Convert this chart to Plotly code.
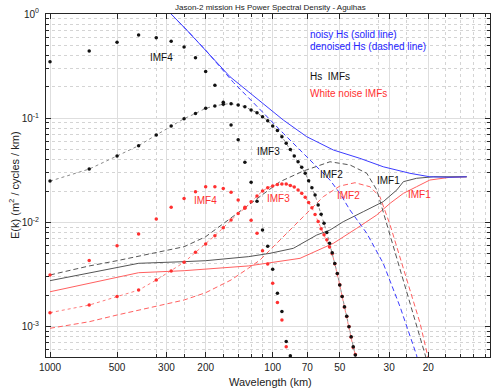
import numpy as np
import plotly.graph_objects as go

FONT = "Liberation Sans, Arial, Helvetica, sans-serif"
BLUE = "#3c3cff"
BLUE_TXT = "#2424ff"
RED = "#ff3030"
RED_LINE = "#ff6060"
BLACK = "#111111"
GREY_LINE = "#555555"
AXIS = "#262626"

# --- wavelength grid (km) of the spectral estimates used by the dotted IMF series
lam_grid = [1000, 666.7, 500, 400, 333.3, 285.7, 250, 222.2, 200, 181.8,
            166.7, 153.8, 142.9, 133.3, 125, 117.6, 111.1, 105.3, 100, 95.24,
            90.91, 86.96, 83.33, 80, 76.92, 74.07, 71.43, 68.97, 66.67, 64.52,
            62.5, 60.61, 58.82, 57.14, 55.56, 54.05, 52.63, 51.28, 50, 48.78,
            47.62, 46.51, 45.45, 44.44, 43.48, 42.55, 41.67]

# --- Hs spectra (blue)
lam_noisy = [333, 286, 243, 200, 155.5, 128.7, 106.4, 89.6, 70.4, 53.4,
             40.6, 31.9, 24.2, 19.7, 16.0, 13.45]
e_noisy = [1.45, 1.0, 0.70, 0.45, 0.25, 0.18, 0.129, 0.096, 0.0665, 0.0495,
           0.0412, 0.0342, 0.0296, 0.0274, 0.0271, 0.0274]

lam_denoised = [333, 286, 243, 200, 170, 150, 128.7, 106.4, 89.6, 75.4,
                63.4, 55.3, 49.9, 45.0, 37.8, 31.9, 26.8, 22.6, 21.0]
e_denoised = [1.45, 1.0, 0.70, 0.45, 0.30, 0.22, 0.158, 0.1034, 0.0716, 0.0495,
              0.0342, 0.0255, 0.019, 0.01315, 0.00786, 0.00405, 0.00155, 0.000533, 0.00025]

# --- Hs IMFs (black)
lam_imf1 = [1000, 400, 250, 200, 128.7, 102.8, 80.8, 63.4, 55.3, 48.2,
            39.2, 31.9, 27.7, 25.9, 22.6, 19.0, 13.45]
e_imf1 = [0.00276, 0.00405, 0.0042, 0.00429, 0.00469, 0.00505, 0.00564, 0.00757, 0.00845, 0.01016,
          0.01267, 0.0158, 0.0205, 0.0246, 0.0265, 0.0274, 0.0274]

lam_imf2 = [1000, 666.7, 500, 400, 250, 200, 155.5, 125, 92.7, 72.9,
            55.3, 45.0, 37.8, 34.1, 30.8, 27.7, 25.0, 22.6, 20.35, 19.5]
e_imf2 = [0.00313, 0.00382, 0.00429, 0.00476, 0.00584, 0.00729, 0.0108, 0.01535, 0.0246, 0.0311,
          0.0382, 0.0356, 0.0296, 0.0205, 0.0098, 0.00469, 0.00225, 0.00108, 0.000514, 0.00035]

e_imf3 = [0.0249, 0.0325, 0.0434, 0.0545, 0.069, 0.0842, 0.099, 0.111, 0.1245, 0.131,
          0.136, 0.138, 0.134, 0.129, 0.120, 0.113, 0.103, 0.0946, 0.084, 0.076,
          0.0665, 0.0574, 0.0502, 0.0434, 0.0383, 0.0338, 0.0296, 0.0251, 0.0215, 0.0183,
          0.0147, 0.0120, 0.0098, 0.0080, 0.0063, 0.0051, 0.00404, 0.00324, 0.00251, 0.00194,
          0.00155, 0.00126, 0.000998, 0.0008, 0.00064, 0.000533, 0.00043]

e_imf4 = [0.348, 0.441, 0.535, 0.629, 0.593, 0.547, 0.482, 0.381, 0.280, 0.207,
          0.142, 0.086, 0.0622, 0.0377, 0.0243, 0.016, 0.00845, 0.0059, 0.00355, 0.00209,
          0.0014, 0.00072, 0.000526]

# --- white noise IMFs (red)
lam_wn1 = [1000, 400, 250, 128.7, 75.4, 53.4, 41.95, 34.1, 29.7, 25.9,
           22.6, 19.7, 16.0, 13.45]
e_wn1 = [0.00216, 0.00329, 0.00344, 0.00382, 0.00452, 0.0063, 0.00878, 0.01178, 0.01526, 0.019,
         0.022, 0.0255, 0.0271, 0.0274]

lam_wn2 = [1000, 666.7, 500, 400, 250, 200, 153.9, 128.7, 114.0, 92.7,
           72.9, 59.3, 49.9, 42.7, 36.6, 33.0, 29.7, 26.8, 24.2, 21.8, 20.08, 19.5]
e_wn2 = [0.000963, 0.001114, 0.001292, 0.001443, 0.0018, 0.002115, 0.0028, 0.003626, 0.004357, 0.00678,
         0.01134, 0.01764, 0.02235, 0.02404, 0.022, 0.01764, 0.00944, 0.00466, 0.002245, 0.001083,
         0.00051, 0.00035]

e_wn3 = [0.00136, 0.00161, 0.00194, 0.00224, 0.0028, 0.00342, 0.00414, 0.00516, 0.00621, 0.00745,
         0.0089, 0.01054, 0.0122, 0.01365, 0.0158, 0.0179, 0.0200, 0.0215, 0.0224, 0.0231,
         0.0233, 0.0233, 0.0226, 0.0219, 0.0205, 0.019, 0.0174, 0.0155, 0.0138, 0.0119,
         0.0102, 0.0087, 0.0076, 0.0068, 0.0058, 0.0050, 0.0040, 0.00322, 0.00252, 0.00195,
         0.00153, 0.00125, 0.001, 0.00079, 0.00063, 0.00054, 0.00044]

e_wn4 = [0.00313, 0.0043, 0.00598, 0.00774, 0.0108, 0.01396, 0.017, 0.0197, 0.022, 0.022,
         0.0212, 0.0195, 0.0164, 0.014, 0.0105, 0.00786, 0.00535, 0.00399, 0.0026, 0.0017,
         0.00116, 0.00064]

x_ticks = [1000, 500, 300, 200, 100, 70, 50, 30, 20]
x_minor = [500, 333.3, 250, 200, 166.7, 142.9, 125, 111.1,
           50, 33.33, 25, 20, 16.67, 14.29, 12.5, 11.11]
y_ticks = [1e-3, 1e-2, 1e-1, 1]
y_tick_text = ["10<sup>-3</sup>", "10<sup>-2</sup>", "10<sup>-1</sup>", "10<sup>0</sup>"]
y_minor = [m * d for d in (1e-4, 1e-3, 1e-2, 1e-1) for m in range(2, 10)]

# plot area in pixels (for placing text labels)
L, R, T, B = 46, 490, 14, 357


def paper(px, py):
    return (px - L) / (R - L), (B - py) / (B - T)


fig = go.Figure()


def line(x, y, color, dash="solid", width=1):
    fig.add_trace(go.Scatter(x=x, y=y, mode="lines", showlegend=False,
                             line=dict(color=color, width=width, dash=dash)))


DASH = "5px,3px"
line(lam_wn1, e_wn1, RED_LINE)
line(lam_wn2, e_wn2, RED_LINE, DASH)
line(lam_imf1, e_imf1, GREY_LINE)
line(lam_imf2, e_imf2, GREY_LINE, DASH)
line(lam_noisy, e_noisy, BLUE)
line(lam_denoised, e_denoised, BLUE, DASH)

fig.add_trace(go.Scatter(
    x=lam_grid[:len(e_wn3)], y=e_wn3, mode="lines+markers", showlegend=False,
    line=dict(color="rgba(255,90,90,0.8)", width=1, dash="dot"),
    marker=dict(color=RED, size=3.5)))
fig.add_trace(go.Scatter(
    x=lam_grid[:len(e_imf3)], y=e_imf3, mode="lines+markers", showlegend=False,
    line=dict(color="#8a8a8a", width=1, dash="dot"),
    marker=dict(color=BLACK, size=3.5)))
fig.add_trace(go.Scatter(
    x=lam_grid[:len(e_wn4)], y=e_wn4, mode="markers", showlegend=False,
    marker=dict(color=RED, size=3.5)))
fig.add_trace(go.Scatter(
    x=lam_grid[:len(e_imf4)], y=e_imf4, mode="markers", showlegend=False,
    marker=dict(color=BLACK, size=3.5)))

annotations = []


def text_at(text, px, py, size, color, xanchor="center", angle=0):
    xp, yp = paper(px, py)
    annotations.append(dict(text=text, x=xp, y=yp, xref="paper", yref="paper",
                            xanchor=xanchor, yanchor="middle", textangle=angle,
                            showarrow=False, font=dict(size=size, color=color)))


labels = [
    ("IMF4", 161.7, 57.7, BLACK), ("IMF3", 268, 151.7, BLACK),
    ("IMF2", 331.7, 174.3, BLACK), ("IMF1", 388.3, 180.7, BLACK),
    ("IMF4", 205, 200, RED), ("IMF3", 278.3, 198.3, RED),
    ("IMF2", 348.3, 196, RED), ("IMF1", 419.3, 194.3, RED),
]
for text, px, py, color in labels:
    text_at(text, px, py, 10, color)

notes = [
    ("noisy Hs (solid line)", 34.3, BLUE_TXT),
    ("denoised Hs (dashed line)", 46.7, BLUE_TXT),
    ("Hs  IMFs", 76.7, BLACK),
    ("White noise IMFs", 93.3, RED),
]
for text, py, color in notes:
    text_at(text, 307.5, py, 10, color, xanchor="left")

text_at("Jason-2 mission Hs Power Spectral Density - Agulhas", 270, 7.3, 8, "#222222")
text_at("Wavelength (km)", 270.3, 381.5, 11, "#222222")
text_at("E(k) (m<sup>2</sup> / cycles / km)", 13.5, 185.5, 11, "#222222", angle=-90)

axis_common = dict(
    type="log", automargin=False, showline=True, linecolor=AXIS, linewidth=1,
    mirror="ticks", ticks="inside", ticklen=5, tickcolor=AXIS, tickwidth=1,
    showgrid=True, gridcolor="#dedede", gridwidth=1, zeroline=False,
    tickfont=dict(size=10, color="#222222"),
)

fig.update_layout(
    template="none",
    width=500, height=392,
    margin=dict(l=L, r=500 - R, t=T, b=392 - B),
    paper_bgcolor="white", plot_bgcolor="white",
    font=dict(family=FONT, color="#222222"),
    showlegend=False,
    annotations=annotations,
    xaxis=dict(
        **axis_common,
        range=[np.log10(1000) + 4 / 222.7, np.log10(1000) - 440 / 222.7],
        tickmode="array", tickvals=x_ticks, ticktext=[str(v) for v in x_ticks],
        ticklabelstandoff=1,
        minor=dict(tickmode="array", tickvals=x_minor, ticks="inside", ticklen=3,
                   tickcolor=AXIS, showgrid=True, gridcolor="#d4d4d4", griddash="dot"),
    ),
    yaxis=dict(
        **axis_common,
        range=[-3.2917, 0],
        tickmode="array", tickvals=y_ticks, ticktext=y_tick_text,
        ticklabelstandoff=4,
        minor=dict(tickmode="array", tickvals=y_minor, ticks="inside", ticklen=3,
                   tickcolor=AXIS, showgrid=True, gridcolor="#d4d4d4", griddash="dot"),
    ),
)

# the page body has a default 8px margin; drop it so the figure sits at (0, 0)
fig.write_html("out.html", config={"displayModeBar": False},
               post_script="document.body.style.margin = '0';")
